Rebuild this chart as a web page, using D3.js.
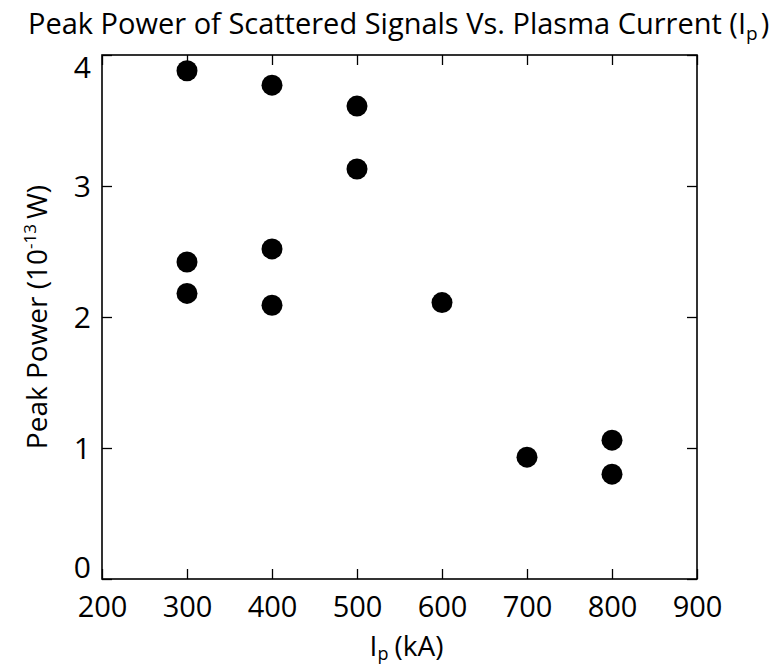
<!DOCTYPE html>
<html>
<head>
<meta charset="utf-8">
<script src="https://cdn.jsdelivr.net/npm/d3@7"></script>
<style>
  html, body { margin: 0; padding: 0; background: #fff; }
  svg { display: block; }
  text { font-family: "Open Sans", "Noto Sans", sans-serif; fill: #000; }
</style>
</head>
<body>
<svg id="chart" width="776" height="667"></svg>
<script>
// Plasma current (kA) and peak power of scattered signals (1e-13 W)
const currentKA = [300, 300, 300, 400, 400, 400, 500, 500, 600, 700, 800, 800];
const peakPower = [3.88, 2.42, 2.18, 3.77, 2.52, 2.09, 3.61, 3.13, 2.11, 0.93, 1.06, 0.80];
const xTicks = [200, 300, 400, 500, 600, 700, 800, 900];
const yTicks = [0, 1, 2, 3, 4];

const svg = d3.select("#chart");
const margin = { left: 102, right: 79, top: 55, bottom: 88 };
const W = 776, H = 667;
const innerW = W - margin.left - margin.right;
const innerH = H - margin.top - margin.bottom;

const x = d3.scaleLinear().domain([200, 900]).range([0, innerW]);
const y = d3.scaleLinear().domain([0, 4]).range([innerH, 0]);

const g = svg.append("g").attr("transform", `translate(${margin.left},${margin.top})`);

// Inward ticks on all four sides
const tickLen = 10;
const axisStyle = sel => {
  sel.select(".domain").remove();
  sel.selectAll("line").attr("stroke", "#000").attr("stroke-width", 1.3);
};

g.append("g").attr("transform", `translate(0,${innerH})`)
  .call(d3.axisBottom(x).tickValues(xTicks).tickSize(-tickLen).tickPadding(17).tickFormat(d3.format("d")))
  .call(axisStyle)
  .selectAll("text").attr("font-size", 29).attr("dy", "0.71em");

// End labels of the y axis stay inside the frame's height
g.append("g")
  .call(d3.axisLeft(y).tickValues(yTicks).tickSize(-tickLen).tickPadding(11).tickFormat(d3.format("d")))
  .call(axisStyle)
  .selectAll("text").attr("font-size", 30)
  .attr("dy", d => d === 0 ? "-0.06em" : d === 4 ? "0.74em" : "0.36em");

g.append("g")
  .call(d3.axisTop(x).tickValues(xTicks).tickSize(-tickLen).tickFormat(""))
  .call(axisStyle);

g.append("g").attr("transform", `translate(${innerW},0)`)
  .call(d3.axisRight(y).tickValues(yTicks).tickSize(-tickLen).tickFormat(""))
  .call(axisStyle);

// Plot frame
g.append("rect")
  .attr("x", 0).attr("y", 0).attr("width", innerW).attr("height", innerH)
  .attr("fill", "none").attr("stroke", "#000").attr("stroke-width", 1.6);

// Data points
g.selectAll("circle.pt")
  .data(d3.zip(currentKA, peakPower))
  .join("circle")
  .attr("class", "pt")
  .attr("cx", d => x(d[0]))
  .attr("cy", d => y(d[1]))
  .attr("r", 10.5)
  .attr("fill", "#000");

// Title
const title = svg.append("text")
  .attr("x", 28).attr("y", 34)
  .attr("font-size", 29);
title.append("tspan").text("Peak Power of Scattered Signals Vs. Plasma Current (I");
title.append("tspan").attr("font-size", 19).attr("dy", 6).text("p");
title.append("tspan").attr("dy", -6).attr("dx", 3).text(")");

// X axis label
const xl = svg.append("text")
  .attr("x", margin.left + innerW / 2 + 7).attr("y", 656)
  .attr("text-anchor", "middle")
  .attr("font-size", 28);
xl.append("tspan").text("I");
xl.append("tspan").attr("font-size", 18).attr("dy", 4).text("p");
xl.append("tspan").attr("dy", -4).attr("dx", 6).text("(kA)");

// Y axis label
const yl = svg.append("text")
  .attr("transform", `translate(47,${margin.top + innerH / 2}) rotate(-90)`)
  .attr("text-anchor", "middle")
  .attr("font-size", 28);
yl.append("tspan").text("Peak Power (10");
yl.append("tspan").attr("font-size", 17).attr("dy", -11).text("-13");
yl.append("tspan").attr("dy", 11).attr("dx", 5).text("W)");
</script>
</body>
</html>
